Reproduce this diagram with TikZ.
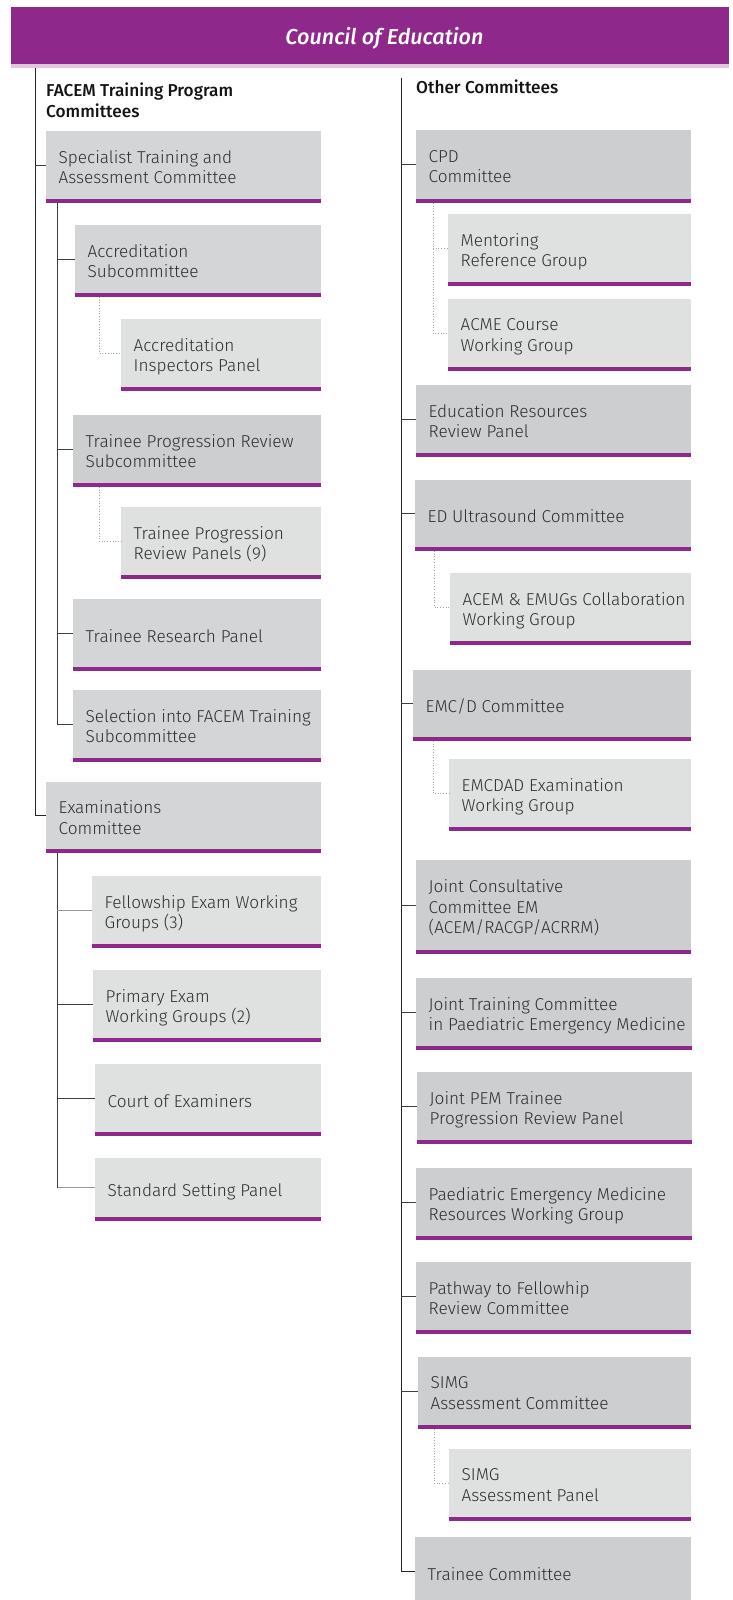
\documentclass[tikz,border=0pt]{standalone}
\usepackage{fontspec}
\setmainfont{Fira Sans}
\newfontfamily\lightfont{Fira Sans Light}
\newfontfamily\mediumfont{Fira Sans Medium}
\usetikzlibrary{calc}
\definecolor{acpurple}{HTML}{8E288A}
\definecolor{acpink}{HTML}{E2C6DF}
\definecolor{lvlA}{HTML}{D4D5D6}
\definecolor{lvlB}{HTML}{DFE0E0}
\definecolor{lvlR}{HTML}{CDCED0}
\definecolor{txtgrey}{HTML}{2E2E2E}
\tikzset{
  x=1pt, y=-1pt,
  boxbase/.style={inner sep=0pt, outer sep=0pt, draw=none, anchor=north west},
  lvla/.style={boxbase, fill=lvlA},
  lvlb/.style={boxbase, fill=lvlB},
  lvlr/.style={boxbase, fill=lvlR},
  txt/.style={anchor=west, align=left, inner sep=0pt, text=txtgrey,
    font=\lightfont\fontsize{17.2}{20.5}\selectfont,
    execute at begin node=\strut, execute at end node=\strut},
  headtxt/.style={anchor=north west, align=left, inner sep=0pt, text=black!92,
    font=\mediumfont\fontsize{17.2}{21}\selectfont,
    execute at begin node=\strut, execute at end node=\strut},
  pbar/.style={fill=acpurple},
  trunk/.style={draw=black!85, line width=1pt},
  branch/.style={draw=black!75, line width=0.9pt},
  lbranch/.style={draw=black!40, line width=0.9pt},
  dots/.style={draw=black!35, dotted, line width=0.7pt}
}
\newcommand\orgbox[7]{%
  \node[#6, minimum width=#4pt, minimum height=#5pt] (#1) at (#2,#3) {};
  \fill[pbar] (#1.south west) rectangle ([yshift=-4pt]#1.south east);
  \node[txt] (#1-t) at ([xshift=12.5pt,yshift=-5pt]#1.west) {#7};%
}
\begin{document}
\begin{tikzpicture}
\useasboundingbox (0,0) rectangle (732,1600);
% header
\node[boxbase, fill=acpurple, minimum width=718pt, minimum height=57pt] (council) at (11,7) {};
\fill[acpink] (council.south west) rectangle ([yshift=-4pt]council.south east);
\node[anchor=base, inner sep=0pt, text=white, font=\mediumfont\itshape\fontsize{21.6}{26}\selectfont] (council-t) at (384.5,45) {Council of Education};

% headings
\node[headtxt] (facem) at (46,82.3) {FACEM Training Program\\Committees};
\node[headtxt] (other) at (416,78.3) {Other Committees};

% left column
\orgbox{stac}{46}{131}{275}{68}{lvla}{Specialist Training and\\Assessment Committee}
\orgbox{accsub}{75}{225}{246}{68}{lvla}{Accreditation\\Subcommittee}
\orgbox{accins}{121}{319}{200}{68}{lvlb}{Accreditation\\Inspectors Panel}
\orgbox{tprs}{73}{415}{248}{68}{lvlr}{Trainee Progression Review\\Subcommittee}
\orgbox{tprp}{121}{507}{200}{68}{lvlb}{Trainee Progression\\Review Panels (9)}
\orgbox{trp}{73}{599}{248}{68}{lvla}{Trainee Research Panel}
\orgbox{sel}{73}{690}{248}{68}{lvla}{Selection into FACEM Training\\Subcommittee}
\orgbox{exam}{46}{782}{275}{67}{lvla}{Examinations\\Committee}
\orgbox{few}{92}{876}{229}{68}{lvlb}{Fellowship Exam Working\\Groups (3)}
\orgbox{pew}{93}{970}{228}{68}{lvlb}{Primary Exam\\Working Groups (2)}
\orgbox{coe}{95}{1064}{226}{68}{lvlb}{Court of Examiners}
\orgbox{ssp}{95}{1158}{226}{59}{lvlb}{Standard Setting Panel}

% right column
\orgbox{cpd}{416}{130}{275}{69}{lvlr}{CPD\\Committee}
\orgbox{ment}{448}{214}{243}{68}{lvlb}{Mentoring\\Reference Group}
\orgbox{acme}{448}{299}{243}{68}{lvlb}{ACME Course\\Working Group}
\orgbox{err}{416}{385}{275}{68}{lvlr}{Education Resources\\Review Panel}
\orgbox{edu}{415}{480}{276}{67}{lvlr}{ED Ultrasound Committee}
\orgbox{emugs}{450}{573}{241}{68}{lvlb}{ACEM \& EMUGs Collaboration\\Working Group}
\orgbox{emcd}{413}{670}{278}{67}{lvlr}{EMC/D Committee}
\orgbox{emcdad}{449}{759}{242}{68}{lvlb}{EMCDAD Examination\\Working Group}
\orgbox{jcc}{416}{860}{275}{90}{lvlr}{Joint Consultative\\Committee EM\\(ACEM/RACGP/ACRRM)}
\orgbox{jtc}{416}{978}{276}{68}{lvlr}{Joint Training Committee\\in Paediatric Emergency Medicine}
\orgbox{jpem}{417}{1072}{275}{68}{lvlr}{Joint PEM Trainee\\Progression Review Panel}
\orgbox{pemr}{416}{1168}{276}{68}{lvlr}{Paediatric Emergency Medicine\\Resources Working Group}
\orgbox{pfr}{416}{1262}{275}{68}{lvlr}{Pathway to Fellowhip\\Review Committee}
\orgbox{simg}{418}{1357}{273}{68}{lvlr}{SIMG\\Assessment Committee}
\orgbox{simgp}{449}{1449}{242}{68}{lvlb}{SIMG\\Assessment Panel}
\node[lvlr, minimum width=276pt, minimum height=68pt] (tc) at (415,1537) {};
\node[txt] (tc-t) at ([xshift=12.5pt,yshift=-5pt]tc.west) {Trainee Committee};

% left trunk
\coordinate (lt) at (35,68);
\draw[trunk] (lt) |- (exam.west);
\draw[branch] (lt |- stac.west) -- (stac.west);
% STAC sub-trunk
\coordinate (st) at ([xshift=11pt,yshift=-4pt]stac.south west);
\draw[branch] (st) |- (sel.west);
\draw[branch] (st |- accsub.west) -- (accsub.west);
\draw[branch] (st |- tprs.west) -- (tprs.west);
\draw[branch] (st |- trp.west) -- (trp.west);
% Exam sub-trunk
\coordinate (et) at ([xshift=11pt,yshift=-4pt]exam.south west);
\draw[branch] (et) |- (coe.west);
\draw[lbranch] (et |- coe.west) |- (ssp.west);
\draw[branch] (et |- ssp.west) -- (et |- coe.west);
\draw[lbranch] (et |- few.west) -- (few.west);
\draw[branch] (et |- pew.west) -- (pew.west);
% dotted
\draw[dots] ([xshift=24pt,yshift=-4pt]accsub.south west) |- (accins.west);
\draw[dots] ([xshift=26pt,yshift=-4pt]tprs.south west) |- (tprp.west);

% right trunk
\coordinate (rt) at (401,78);
\draw[trunk] (rt) |- (tc.west);
\foreach \n in {cpd,err,edu,emcd,jcc,jtc,jpem,pemr,pfr,simg}{
  \draw[branch] (rt |- \n.west) -- (\n.west);
}
\coordinate (cpdd) at ([xshift=17pt,yshift=-4pt]cpd.south west);
\draw[dots] (cpdd) |- (acme.west);
\draw[dots] (cpdd |- ment.west) -- (ment.west);
\draw[dots] ([xshift=19pt,yshift=-4pt]edu.south west) |- (emugs.west);
\draw[dots] ([xshift=20pt,yshift=-4pt]emcd.south west) |- (emcdad.west);
\draw[dots] ([xshift=16pt,yshift=-4pt]simg.south west) |- (simgp.west);
\end{tikzpicture}
\end{document}
